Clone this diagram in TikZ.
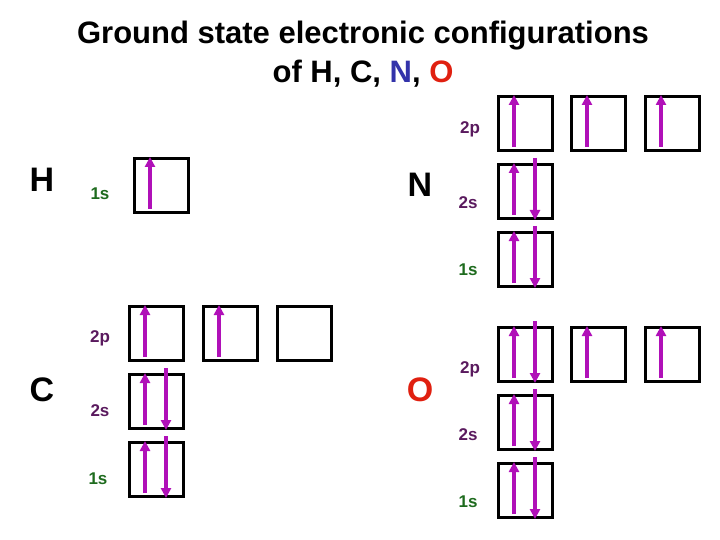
\documentclass[tikz,border=0pt]{standalone}
\usepackage{fontspec}
\setmainfont{Liberation Sans}
\usetikzlibrary{arrows.meta,calc}
\definecolor{arr}{HTML}{B010B8}
\definecolor{lblp}{HTML}{5A1A5E}
\definecolor{lblg}{HTML}{1E6B1E}
\definecolor{nblue}{HTML}{3333AA}
\definecolor{ored}{HTML}{E02010}
\tikzset{
  orb/.style={draw=black,line width=3pt,minimum width=54pt,minimum height=54pt,inner sep=0pt,anchor=north west},
  el/.style={font=\fontsize{34}{34}\selectfont\bfseries},
  sub/.style={font=\fontsize{17}{17}\selectfont\bfseries},
  ttl/.style={font=\fontsize{31}{31}\selectfont\bfseries},
  e/.style={draw=arr,line width=3.2pt,-{Triangle[width=10pt,length=10pt]}}
}
\newcommand{\upe}[1]{\draw[e] ($(#1.south west)+(17,-5)$) -- ($(#1.north west)+(17,0)$);}
\newcommand{\dne}[1]{\draw[e] ($(#1.north west)+(38,-5)$) -- ($(#1.south west)+(38,0)$);}
\begin{document}
\begin{tikzpicture}[x=1pt,y=-1pt]
\useasboundingbox (0,0) rectangle (720,540);
\node[ttl] (t1) at (363,36) {Ground state electronic configurations};
\node[ttl] (t2) at (363,74) {of H, C, \textcolor{nblue}{N}, \textcolor{ored}{O}};
% H
\node[el] (H) at (42,180) {H};
\node[sub,lblg] (H1s) at (100,194) {1s};
\node[orb] (Hb) at (133,157) {};
\upe{Hb}
% N
\node[el] (N) at (420,185) {N};
\node[sub,lblp] (N2p) at (470,129) {2p};
\node[sub,lblp] (N2s) at (468,203) {2s};
\node[sub,lblg] (N1s) at (468,270) {1s};
\node[orb] (Np1) at (497,95) {}; \upe{Np1}
\node[orb] (Np2) at (570,95) {}; \upe{Np2}
\node[orb] (Np3) at (644,95) {}; \upe{Np3}
\node[orb] (Ns) at (497,163) {}; \upe{Ns}\dne{Ns}
\node[orb] (N1) at (497,231) {}; \upe{N1}\dne{N1}
% C
\node[el] (C) at (42,390) {C};
\node[sub,lblp] (C2p) at (100,338) {2p};
\node[sub,lblp] (C2s) at (100,411) {2s};
\node[sub,lblg] (C1s) at (98,479) {1s};
\node[orb] (Cp1) at (128,305) {}; \upe{Cp1}
\node[orb] (Cp2) at (202,305) {}; \upe{Cp2}
\node[orb] (Cp3) at (276,305) {};
\node[orb] (Cs) at (128,373) {}; \upe{Cs}\dne{Cs}
\node[orb] (C1) at (128,441) {}; \upe{C1}\dne{C1}
% O
\node[el,ored] (O) at (420,390) {O};
\node[sub,lblp] (O2p) at (470,369) {2p};
\node[sub,lblp] (O2s) at (468,435) {2s};
\node[sub,lblg] (O1s) at (468,502) {1s};
\node[orb] (Op1) at (497,326) {}; \upe{Op1}\dne{Op1}
\node[orb] (Op2) at (570,326) {}; \upe{Op2}
\node[orb] (Op3) at (644,326) {}; \upe{Op3}
\node[orb] (Os) at (497,394) {}; \upe{Os}\dne{Os}
\node[orb] (O1) at (497,462) {}; \upe{O1}\dne{O1}
\end{tikzpicture}
\end{document}
